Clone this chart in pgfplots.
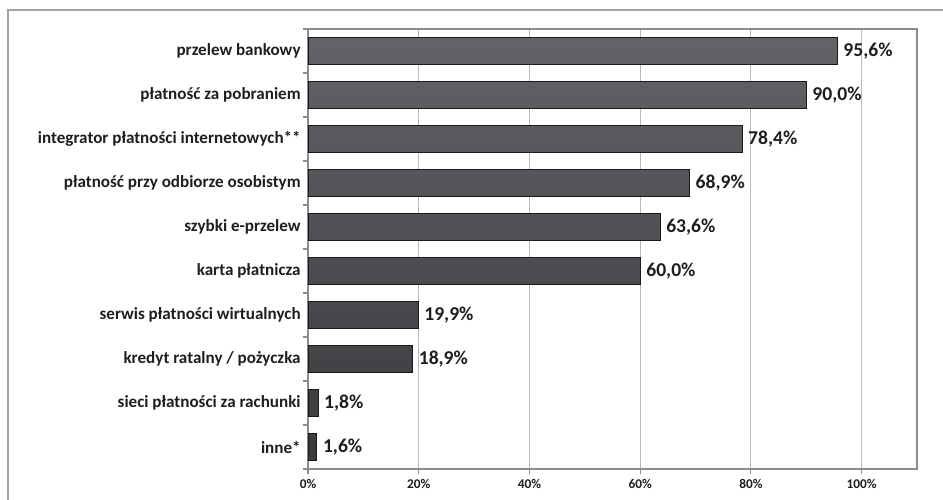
\documentclass[border=0pt]{standalone}
\usepackage{pgfplots}
\pgfplotsset{compat=1.18}
\usepackage{fontspec}
\setmainfont{Carlito}
\definecolor{bartop}{RGB}{98,99,104}
\definecolor{barbot}{RGB}{58,58,61}
\definecolor{gridc}{RGB}{185,185,185}
\definecolor{axisc}{RGB}{140,140,140}
\definecolor{txt}{RGB}{30,30,30}
\begin{document}
\begin{tikzpicture}
\path[use as bounding box] (0,0) rectangle (707.25pt,375pt);
\draw[color=axisc!80, line width=1pt] (6pt,-2pt) -- (6pt,367.5pt) -- (710pt,367.5pt);
\begin{axis}[
  at={(231pt,23.25pt)}, anchor=south west,
  scale only axis, width=456.75pt, height=330pt,
  xbar, bar width=20.25pt,
  xmin=0, xmax=110, ymin=-0.5, ymax=9.5, y dir=reverse,
  axis line style={color=axisc, line width=0.8pt},
  xtick={0,20,40,60,80,100},
  xticklabels={0\%,20\%,40\%,60\%,80\%,100\%},
  xticklabel style={font=\fontsize{10}{12}\selectfont\bfseries, text=txt, yshift=-4pt},
  xmajorgrids, grid style={color=gridc, line width=0.8pt},
  tick align=outside, major tick length=0pt, minor tick length=3.5pt,
  tick style={color=axisc, line width=0.8pt},
  xtick pos=bottom, ytick pos=left,
  minor xtick={0,20,40,60,80,100},
  ytick={0,1,2,3,4,5,6,7,8,9},
  yticklabels={przelew bankowy\ ,płatność za pobraniem,integrator płatności internetowych**,płatność przy odbiorze osobistym,szybki e-przelew\ ,karta płatnicza,serwis płatności wirtualnych,kredyt ratalny / pożyczka,sieci płatności za rachunki\ ,inne*},
  yticklabel style={font=\fontsize{12.8}{14}\selectfont\bfseries, text=txt, xshift=-2pt},
  minor ytick={-0.5,0.5,1.5,2.5,3.5,4.5,5.5,6.5,7.5,8.5,9.5},
  point meta=x,
  nodes near coords={\pgfmathprintnumber[fixed,fixed zerofill,precision=1,use comma,assume math mode=true]{\pgfplotspointmeta}\%},
  nodes near coords style={font=\fontsize{14.7}{16}\selectfont\bfseries, text=txt, anchor=west, xshift=1pt},
]
\addplot[draw=black!90, line width=0.6pt, top color=bartop, bottom color=barbot] coordinates {
(95.6,0) (90.0,1) (78.4,2) (68.9,3) (63.6,4) (60.0,5) (19.9,6) (18.9,7) (1.8,8) (1.6,9)
};
\end{axis}
\end{tikzpicture}
\end{document}
